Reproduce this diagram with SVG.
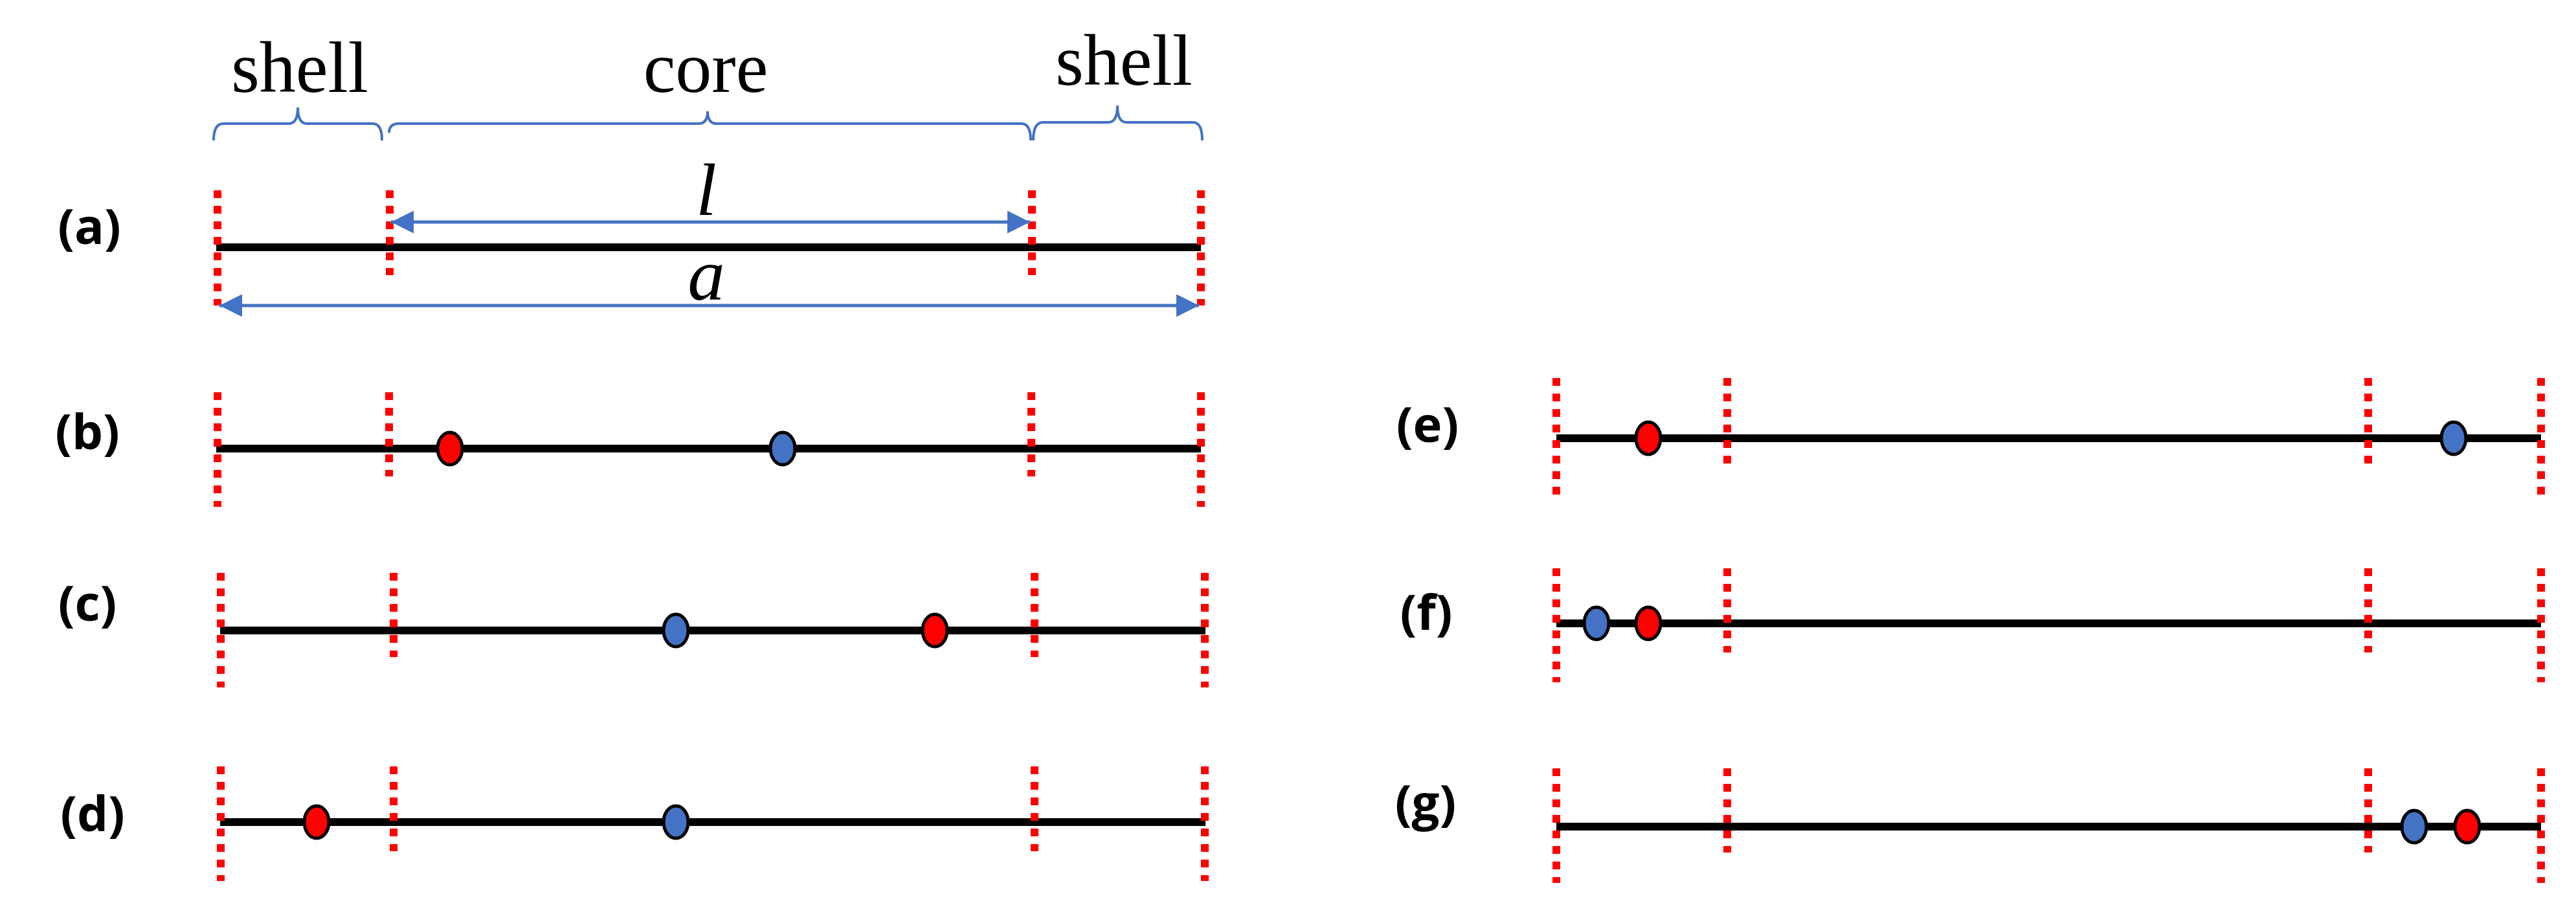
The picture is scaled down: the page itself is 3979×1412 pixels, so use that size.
<svg xmlns="http://www.w3.org/2000/svg" width="3979" height="1412" viewBox="0 0 3979 1412">
<style>
.ax{stroke:#000;stroke-width:12;fill:none}
.dl{stroke:#FF0000;stroke-width:12;stroke-dasharray:12 12;fill:none}
.br{stroke:#4472C4;stroke-width:4;fill:none}
.ar{stroke:#4472C4;stroke-width:5;fill:none}
.r{fill:#FF0000;stroke:#000;stroke-width:5}
.b{fill:#4472C4;stroke:#000;stroke-width:5}
.lab{font-family:"Open Sans","Liberation Sans",Arial,sans-serif;font-weight:bold;font-size:76px;text-anchor:middle}
.tt{font-family:"Liberation Serif","Times New Roman",serif;font-size:112px;text-anchor:middle}
.it{font-family:"Liberation Serif","Times New Roman",serif;font-style:italic;font-size:115px;text-anchor:middle}
</style>
<defs>
<marker id="ah" viewBox="0 0 10 10" refX="10" refY="5" markerWidth="7.5" markerHeight="7" markerUnits="strokeWidth" orient="auto-start-reverse">
<path d="M0,0 L10,5 L0,10 z" fill="#4472C4"/>
</marker>
</defs>
<rect width="3979" height="1412" fill="#fff"/>
<g id="header">
<text class="tt" x="463" y="142">shell</text>
<text class="tt" x="1090" y="142">core</text>
<text class="tt" x="1736" y="131">shell</text>
<path class="br" d="M330,217 Q330,191 345,191 L446,191 Q460,191 460,166 Q460,191 474,191 L576,191 Q590,191 590,217"/>
<path class="br" d="M601,205 Q601,191 616,191 L1079,191 Q1093,191 1093,172 Q1093,191 1107,191 L1578,191 Q1592,191 1592,217"/>
<path class="br" d="M1596,217 Q1596,189 1611,189 L1712,189 Q1726,189 1726,163 Q1726,189 1740,189 L1843,189 Q1857,189 1857,217"/>
</g>
<g id="row-a">
<text class="lab" x="138" y="377">(a)</text>
<line class="ax" x1="334" y1="382" x2="1855" y2="382"/>
<line class="dl" x1="336" y1="294" x2="336" y2="472"/>
<line class="dl" x1="602" y1="294" x2="602" y2="425"/>
<line class="dl" x1="1594" y1="294" x2="1594" y2="425"/>
<line class="dl" x1="1855" y1="294" x2="1855" y2="472"/>
<text class="it" x="1091" y="332">l</text>
<text class="it" x="1091" y="463">a</text>
</g>
<g id="connectors">
<line class="ar" x1="604" y1="343" x2="1591" y2="343" marker-start="url(#ah)" marker-end="url(#ah)"/>
<line class="ar" x1="339" y1="472" x2="1852" y2="472" marker-start="url(#ah)" marker-end="url(#ah)"/>
</g>
<g id="row-b">
<text class="lab" x="135" y="694">(b)</text>
<line class="ax" x1="334" y1="693" x2="1855" y2="693"/>
<line class="dl" x1="336" y1="606" x2="336" y2="783"/>
<line class="dl" x1="601" y1="606" x2="601" y2="736"/>
<line class="dl" x1="1593" y1="606" x2="1593" y2="736"/>
<line class="dl" x1="1855" y1="606" x2="1855" y2="783"/>
<ellipse class="r" cx="695" cy="693" rx="19" ry="25"/>
<ellipse class="b" cx="1209" cy="693" rx="19" ry="25"/>
</g>
<g id="row-c">
<text class="lab" x="135" y="959">(c)</text>
<line class="ax" x1="340" y1="974" x2="1862" y2="974"/>
<line class="dl" x1="341" y1="885" x2="341" y2="1062"/>
<line class="dl" x1="608" y1="885" x2="608" y2="1015"/>
<line class="dl" x1="1598" y1="885" x2="1598" y2="1015"/>
<line class="dl" x1="1861" y1="885" x2="1861" y2="1062"/>
<ellipse class="b" cx="1044" cy="974" rx="19" ry="25"/>
<ellipse class="r" cx="1444" cy="974" rx="19" ry="25"/>
</g>
<g id="row-d">
<text class="lab" x="143" y="1284">(d)</text>
<line class="ax" x1="340" y1="1270" x2="1862" y2="1270"/>
<line class="dl" x1="341" y1="1184" x2="341" y2="1361"/>
<line class="dl" x1="608" y1="1184" x2="608" y2="1315"/>
<line class="dl" x1="1598" y1="1184" x2="1598" y2="1315"/>
<line class="dl" x1="1861" y1="1184" x2="1861" y2="1361"/>
<ellipse class="r" cx="489" cy="1270" rx="19" ry="25"/>
<ellipse class="b" cx="1044" cy="1270" rx="19" ry="25"/>
</g>
<g id="row-e">
<text class="lab" x="2205" y="683">(e)</text>
<line class="ax" x1="2404" y1="677" x2="3925" y2="677"/>
<line class="dl" x1="2404" y1="584" x2="2404" y2="766"/>
<line class="dl" x1="2668" y1="584" x2="2668" y2="720"/>
<line class="dl" x1="3658" y1="584" x2="3658" y2="720"/>
<line class="dl" x1="3925" y1="584" x2="3925" y2="766"/>
<ellipse class="r" cx="2546" cy="677" rx="19" ry="25"/>
<ellipse class="b" cx="3790" cy="677" rx="19" ry="25"/>
</g>
<g id="row-f">
<text class="lab" x="2203" y="973">(f)</text>
<line class="ax" x1="2404" y1="963" x2="3925" y2="963"/>
<line class="dl" x1="2404" y1="878" x2="2404" y2="1054"/>
<line class="dl" x1="2668" y1="878" x2="2668" y2="1008"/>
<line class="dl" x1="3658" y1="878" x2="3658" y2="1008"/>
<line class="dl" x1="3925" y1="878" x2="3925" y2="1054"/>
<ellipse class="b" cx="2466" cy="963" rx="19" ry="25"/>
<ellipse class="r" cx="2546" cy="963" rx="19" ry="25"/>
</g>
<g id="row-g">
<text class="lab" x="2202" y="1267">(g)</text>
<line class="ax" x1="2404" y1="1277" x2="3925" y2="1277"/>
<line class="dl" x1="2404" y1="1187" x2="2404" y2="1364"/>
<line class="dl" x1="2668" y1="1187" x2="2668" y2="1317"/>
<line class="dl" x1="3658" y1="1187" x2="3658" y2="1317"/>
<line class="dl" x1="3925" y1="1187" x2="3925" y2="1364"/>
<ellipse class="b" cx="3729" cy="1277" rx="19" ry="25"/>
<ellipse class="r" cx="3811" cy="1277" rx="19" ry="25"/>
</g>
</svg>
